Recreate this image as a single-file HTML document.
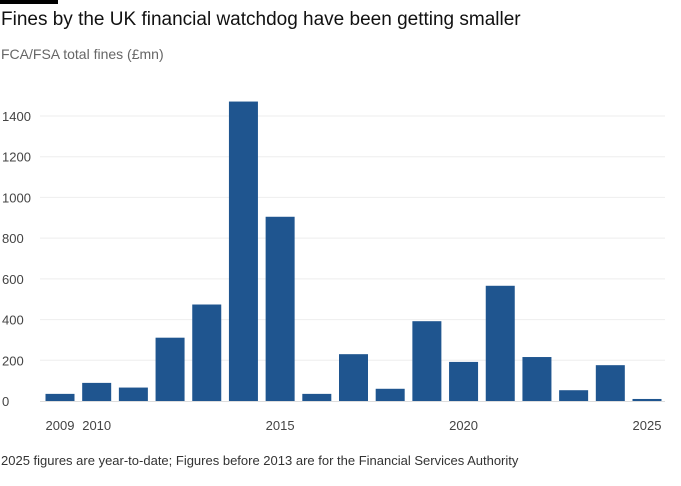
<!DOCTYPE html>
<html><head><meta charset="utf-8"><style>
body{margin:0;background:#fff;font-family:"Liberation Sans",sans-serif;}
#wrap{position:relative;width:681px;height:486px;overflow:hidden;}
</style></head><body>
<div id="wrap">
<div style="position:absolute;left:0;top:0;width:58px;height:4px;background:#000"></div>
<div style="position:absolute;left:1px;top:9px;font-size:19px;color:#111">Fines by the UK financial watchdog have been getting smaller</div>
<div style="position:absolute;left:1px;top:46px;font-size:14px;color:#666">FCA/FSA total fines (£mn)</div>
<svg id="chart" width="681" height="486" style="position:absolute;left:0;top:0"></svg>
<div style="position:absolute;left:1px;top:453px;font-size:13px;color:#333">2025 figures are year-to-date; Figures before 2013 are for the Financial Services Authority</div>
</div>
<script>
const years=[2009,2010,2011,2012,2013,2014,2015,2016,2017,2018,2019,2020,2021,2022,2023,2024,2025];
const fines=[35,89,66,311,474,1471,905,35,230,60,392,192,566,216,53,176,10];
const yTicks=[0,200,400,600,800,1000,1200,1400];
const xTickLabels=[2009,2010,2015,2020,2025];
const svg=document.getElementById('chart');
const NS='http://www.w3.org/2000/svg';
const y0=401,yScale=285/1400;
const y=v=>y0-v*yScale;
const x=yr=>60+(yr-2009)*36.6875;
const bw=29;
function mk(t,a){const e=document.createElementNS(NS,t);for(const k in a)e.setAttribute(k,a[k]);svg.appendChild(e);return e;}
yTicks.forEach(t=>{
  if(t>0){const l=mk('line',{x1:40,x2:665,y1:y(t),y2:y(t),stroke:'#eeeeee','stroke-width':1});
  
  }
  const tx=mk('text',{x:2,y:y(t)+5,'font-size':13,fill:'#444','font-family':'Liberation Sans, sans-serif'});
  tx.textContent=t;
  
  
});
years.forEach((yr,i)=>{
  const r=mk('rect',{x:x(yr)-bw/2,y:y(fines[i]),width:bw,height:y0-y(fines[i]),fill:'#1f558f'});
  
  
});
const base=mk('line',{x1:40,x2:665,y1:y0+0.5,y2:y0+0.5,stroke:'#ddd','stroke-width':1});


xTickLabels.forEach(yr=>{
  const tx=mk('text',{x:x(yr),y:430,'font-size':13,fill:'#444','text-anchor':'middle','font-family':'Liberation Sans, sans-serif'});
  tx.textContent=yr;
  
  
});
</script>
</body></html>
